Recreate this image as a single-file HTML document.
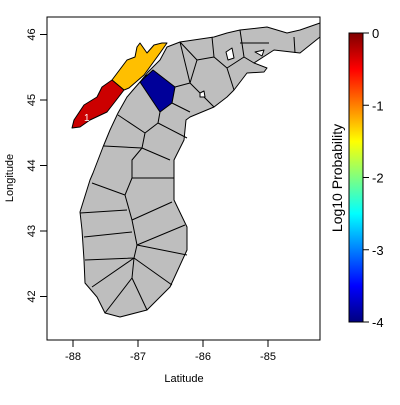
<!DOCTYPE html>
<html><head><meta charset="utf-8"><style>
body{margin:0;background:#fff}
svg text{font-family:"Liberation Sans",sans-serif;fill:#000}
</style></head><body>
<svg width="400" height="400" viewBox="0 0 400 400">
<defs>
<linearGradient id="jet" x1="0" y1="1" x2="0" y2="0">
<stop offset="0" stop-color="#00007F"/><stop offset="0.125" stop-color="#0000FF"/>
<stop offset="0.375" stop-color="#00FFFF"/><stop offset="0.625" stop-color="#FFFF00"/>
<stop offset="0.875" stop-color="#FF0000"/><stop offset="1" stop-color="#7F0000"/>
</linearGradient>
</defs>
<rect x="47" y="17" width="273" height="323" fill="none" stroke="#000"/>
<g id="map" stroke="#000" stroke-width="1" stroke-linejoin="round">
<path fill="#BEBEBE" d="M167,47 L160,60 L148,72 L140,82 L133,90 L127,97 L118,113 L110,130 L103,147 L93,173 L90,180 L80,212 L82,230 L84,260 L85,283 L97,297 L105,313 L120,317 L147,310 L170,287 L187,250 L187,227 L174,200 L174,177 L174,160 L184,140 L186,120 L190,117 L214,107 L227,97 L234,90 L247,73 L264,72 L267,68 L254,63 L274,50 L300,53 L320,37 L320,23 L300,30 L287,33 L267,27 L240,30 L227,33 L214,37 L180,42 Z"/>
<g fill="none">
<path d="M104,146 L142,148 L170,160 M142,148 L132,160 L132,178 L174,178 M132,178 L125,195 L92,183 M125,195 L132,220 L172,202 M80,213 L127,210 M84,237 L132,232 M132,220 L137,245 L185,225 M137,245 L187,255 M137,245 L134,258 L85,260 M134,258 L172,285 M134,258 L92,287 M134,258 L132,278 L105,313 M132,278 L147,310"/>
<path d="M118,115 L145,133 L158,123 L160,112 M158,123 L187,138 M145,133 L142,148 M175,87 L190,83 L214,107 M172,103 L190,112 M180,42 L190,83 M190,83 L197,60 L214,57 L227,68 M197,60 L180,42 M214,57 L212,37 M227,68 L244,57 L240,30 M240,43 L269,43 M244,57 L254,63 M294,37 L295,53 M227,68 L234,90"/>
</g>
<g fill="#fff">
<path d="M226,52 L232,48 L234,58 L228,60 Z"/><path d="M200,93 L204,91 L205,97 L200,97 Z"/><path d="M255,52 L264,50 L262,56 Z"/><path d="M145,76 L150,74 L150,79 Z"/>
</g>
<path id="reg-yellow" d="M112,80 L124,90 L129,88 L144,75 L160,53 L167,43 L162,43 L154,45 L147,53 L140,43 L137,47 L135,57 L127,60 Z"/>
<path id="reg-red" d="M112,80 L124,90 L114,103 L107,112 L90,120 L80,127 L72,128 L74,120 L84,105 L97,97 L102,87 Z"/>
<path id="reg-blue" d="M140,82 L153,70 L175,87 L172,103 L160,112 Z"/>
</g>
<text x="84" y="121" font-size="10" style="fill:#fff">1</text>
<g id="axes" font-size="11"></g>
<text x="184" y="382" font-size="11" text-anchor="middle">Latitude</text>
<text transform="translate(13,178) rotate(-90)" font-size="11" text-anchor="middle">Longitude</text>
<rect x="349" y="33" width="14" height="289" fill="url(#jet)" stroke="#000"/>
<g id="cbar" font-size="13"></g>
<text transform="translate(342,178) rotate(-90)" font-size="14" text-anchor="middle">Log10 Probability</text>
</svg>
<script>
const xTicks=[-88,-87,-86,-85];
const yTicks=[42,43,44,45,46];
const cbTicks=[0,-1,-2,-3,-4];
const regionNames=['reg-yellow','reg-red','reg-blue'];
const regionValues=[-1.25,-0.3,-3.9];
const ns='http://www.w3.org/2000/svg';
const X=v=>73+65*(v+88), Y=v=>100-65.5*(v-45), C=v=>33+72.25*(-v);
function jet(t){const c=x=>Math.max(0,Math.min(1,x));
 const r=c(1.5-Math.abs(4*t-3)),g=c(1.5-Math.abs(4*t-2)),b=c(1.5-Math.abs(4*t-1));
 return `rgb(${Math.round(r*255)},${Math.round(g*255)},${Math.round(b*255)})`;}
regionNames.forEach((id,i)=>{document.getElementById(id).setAttribute('fill',jet((regionValues[i]+4)/4));});
function el(t,a,p){const e=document.createElementNS(ns,t);for(const k in a)e.setAttribute(k,a[k]);p.appendChild(e);return e;}
const ax=document.getElementById('axes');
xTicks.forEach(v=>{const l=el('line',{x1:X(v),x2:X(v),y1:340,y2:347,stroke:'#000'},ax);


const t=el('text',{x:X(v),y:360,'text-anchor':'middle'},ax);t.textContent=v;

});
yTicks.forEach(v=>{const l=el('line',{x1:40,x2:47,y1:Y(v),y2:Y(v),stroke:'#000'},ax);


const t=el('text',{transform:`translate(35,${Y(v)}) rotate(-90)`,'text-anchor':'middle'},ax);t.textContent=v;

});
const cb=document.getElementById('cbar');
cbTicks.forEach(v=>{const l=el('line',{x1:363,x2:369,y1:C(v),y2:C(v),stroke:'#000'},cb);


const t=el('text',{x:372,y:C(v)+5},cb);t.textContent=v;

});
</script>
</body></html>
